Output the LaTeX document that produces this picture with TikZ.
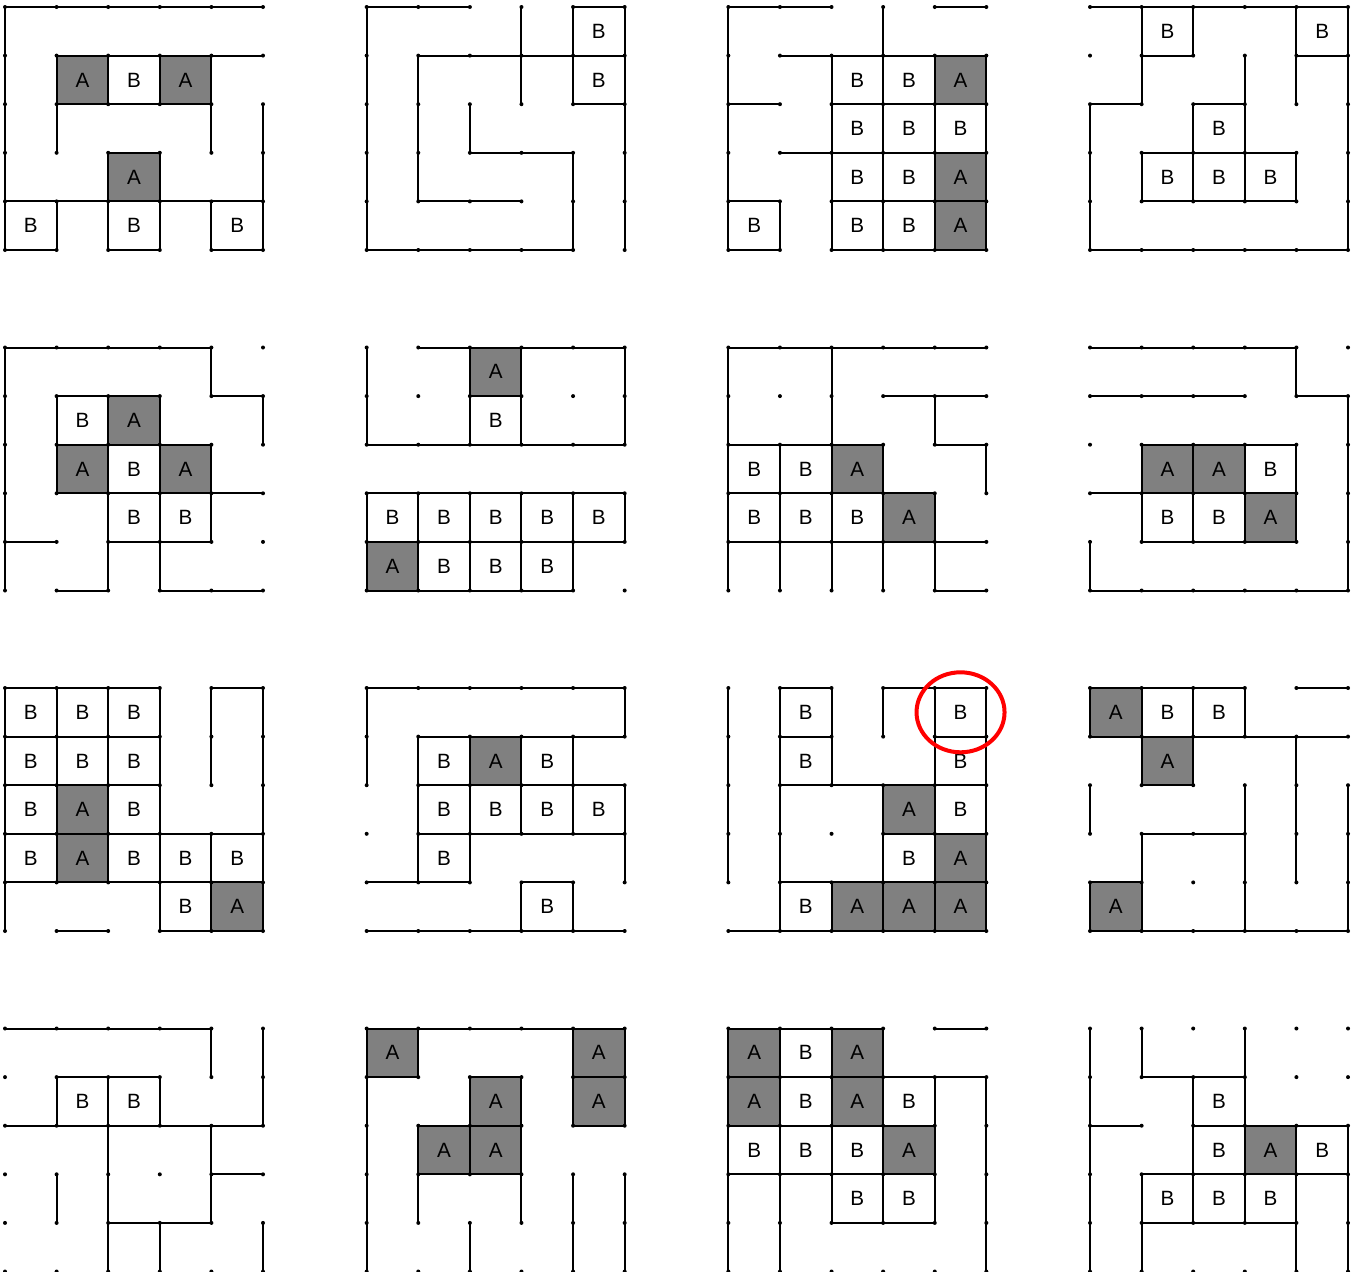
\documentclass[tikz,border=0pt]{standalone}
\usepackage{fontspec}
\setmainfont{Liberation Sans}
\usetikzlibrary{shapes.geometric}
\colorlet{cellA}{black!50}
\colorlet{cellB}{white}
\tikzset{
  wall/.style={line width=1.5pt, line cap=round},
  gridpt/.style={circle, fill=black, inner sep=0pt, minimum size=3pt},
  celltext/.style={font=\fontsize{15.5}{18}\selectfont},
  ring/.style={ellipse, draw=red, line width=3pt, minimum width=66pt, minimum height=60pt}
}
% #1 column, #2 row, #3 walls x1/y1/x2/y2, #4 cells x/y/label
\newcommand{\mazepanel}[4]{%
  \begin{scope}[shift={(5+361.67*#1,7+340.5*#2)}, x=38.7pt, y=-36.45pt]
    \foreach \i/\j/\lab in {#4}{
      \filldraw[wall, fill=cell\lab] (\i,\j) rectangle ++(1,1);
      \node[celltext] (c#1#2-\i-\j) at (\i+.5,\j+.5) {\lab};
    }
    \foreach \xa/\ya/\xb/\yb in {#3}{
      \draw[wall] (\xa,\ya) -- (\xb,\yb);
    }
    \foreach \i in {0,...,5}{
      \foreach \j in {0,...,5}{
        \node[gridpt] (g#1#2-\i-\j) at (\i,\j) {};
      }
    }
  \end{scope}}

\begin{document}
\begin{tikzpicture}[x=0.75pt, y=-0.75pt]
  \useasboundingbox (0,0) rectangle (1360,1271);

  % first row
  \mazepanel{0}{0}{0/0/5/0, 1/1/5/1, 1/2/4/2, 2/3/3/3, 0/4/5/4, 0/5/1/5, 2/5/3/5, 4/5/5/5,
    0/0/0/5, 1/1/1/3, 1/4/1/5, 2/1/2/2, 2/3/2/5, 3/1/3/2, 3/3/3/5, 4/1/4/3, 4/4/4/5, 5/2/5/5}
    {1/1/A, 2/1/B, 3/1/A, 2/3/A, 0/4/B, 2/4/B, 4/4/B}
  \mazepanel{1}{0}{0/0/2/0, 4/0/5/0, 1/1/5/1, 4/2/5/2, 2/3/4/3, 1/4/3/4, 0/5/4/5,
    0/0/0/5, 1/1/1/4, 2/2/2/3, 3/0/3/2, 4/0/4/2, 4/3/4/5, 5/0/5/5}
    {4/0/B, 4/1/B}
  \mazepanel{2}{0}{0/0/2/0, 4/0/5/0, 1/1/5/1, 0/2/1/2, 2/2/5/2, 1/3/5/3, 0/4/1/4, 2/4/5/4, 0/5/1/5, 2/5/5/5,
    0/0/0/5, 1/4/1/5, 2/1/2/5, 3/0/3/5, 4/1/4/5, 5/1/5/5}
    {2/1/B, 3/1/B, 4/1/A, 2/2/B, 3/2/B, 4/2/B, 2/3/B, 3/3/B, 4/3/A, 0/4/B, 2/4/B, 3/4/B, 4/4/A}
  \mazepanel{3}{0}{0/0/5/0, 1/1/2/1, 4/1/5/1, 0/2/1/2, 2/2/3/2, 1/3/4/3, 1/4/4/4, 0/5/5/5,
    0/2/0/5, 1/0/1/2, 1/3/1/4, 2/0/2/1, 2/2/2/4, 3/1/3/4, 4/0/4/2, 4/3/4/4, 5/0/5/5}
    {1/0/B, 4/0/B, 2/2/B, 1/3/B, 2/3/B, 3/3/B}

  % second row
  \mazepanel{0}{1}{0/0/4/0, 1/1/3/1, 4/1/5/1, 1/2/4/2, 1/3/5/3, 0/4/1/4, 2/4/4/4, 1/5/2/5, 3/5/5/5,
    0/0/0/5, 1/1/1/3, 2/1/2/5, 3/1/3/5, 4/0/4/1, 4/2/4/4, 5/1/5/2}
    {1/1/B, 2/1/A, 1/2/A, 2/2/B, 3/2/A, 2/3/B, 3/3/B}
  \mazepanel{1}{1}{1/0/5/0, 2/1/3/1, 0/2/5/2, 0/3/5/3, 0/4/5/4, 0/5/4/5,
    0/0/0/2, 0/3/0/5, 1/3/1/5, 2/0/2/2, 2/3/2/5, 3/0/3/2, 3/3/3/5, 4/3/4/5, 5/0/5/2, 5/3/5/4}
    {2/0/A, 2/1/B, 0/3/B, 1/3/B, 2/3/B, 3/3/B, 4/3/B, 0/4/A, 1/4/B, 2/4/B, 3/4/B}
  \mazepanel{2}{1}{0/0/5/0, 3/1/5/1, 0/2/3/2, 4/2/5/2, 0/3/4/3, 0/4/5/4, 4/5/5/5,
    0/0/0/5, 1/2/1/5, 2/0/2/5, 3/2/3/5, 4/1/4/2, 4/3/4/5, 5/2/5/3}
    {0/2/B, 1/2/B, 2/2/A, 0/3/B, 1/3/B, 2/3/B, 3/3/A}
  \mazepanel{3}{1}{0/0/4/0, 0/1/3/1, 4/1/5/1, 1/2/4/2, 0/3/4/3, 1/4/4/4, 0/5/5/5,
    0/4/0/5, 1/2/1/4, 2/2/2/4, 3/2/3/4, 4/0/4/1, 4/2/4/4, 5/1/5/5}
    {1/2/A, 2/2/A, 3/2/B, 1/3/B, 2/3/B, 3/3/A}

  % third row
  \mazepanel{0}{2}{0/0/3/0, 4/0/5/0, 0/1/3/1, 0/2/3/2, 0/3/5/3, 0/4/5/4, 1/5/2/5, 3/5/5/5,
    0/0/0/5, 1/0/1/4, 2/0/2/4, 3/0/3/5, 4/0/4/2, 4/3/4/5, 5/0/5/5}
    {0/0/B, 1/0/B, 2/0/B, 0/1/B, 1/1/B, 2/1/B, 0/2/B, 1/2/A, 2/2/B, 0/3/B, 1/3/A, 2/3/B, 3/3/B, 4/3/B, 3/4/B, 4/4/A}
  \mazepanel{1}{2}{0/0/5/0, 1/1/5/1, 1/2/5/2, 1/3/5/3, 0/4/2/4, 3/4/4/4, 0/5/5/5,
    0/0/0/2, 1/1/1/4, 2/1/2/4, 3/1/3/3, 3/4/3/5, 4/1/4/3, 4/4/4/5, 5/0/5/1, 5/2/5/4}
    {1/1/B, 2/1/A, 3/1/B, 1/2/B, 2/2/B, 3/2/B, 4/2/B, 1/3/B, 3/4/B}
  \mazepanel{2}{2}{1/0/2/0, 3/0/5/0, 1/1/2/1, 4/1/5/1, 1/2/5/2, 3/3/5/3, 1/4/5/4, 0/5/5/5,
    0/0/0/4, 1/0/1/5, 2/0/2/2, 2/4/2/5, 3/0/3/1, 3/2/3/5, 4/0/4/5, 5/0/5/5}
    {1/0/B, 4/0/B, 1/1/B, 4/1/B, 3/2/A, 4/2/B, 3/3/B, 4/3/A, 1/4/B, 2/4/A, 3/4/A, 4/4/A}
  \mazepanel{3}{2}{0/0/3/0, 4/0/5/0, 0/1/5/1, 1/2/2/2, 1/3/3/3, 0/4/1/4, 0/5/5/5,
    0/2/0/3, 0/4/0/5, 1/0/1/2, 1/3/1/5, 2/0/2/2, 3/0/3/1, 3/2/3/5, 4/1/4/4, 5/2/5/5}
    {0/0/A, 1/0/B, 2/0/B, 1/1/A, 0/4/A}
  \node[ring] (hl) at (c22-4-0) {};

  % fourth row
  \mazepanel{0}{3}{0/0/4/0, 1/1/3/1, 0/2/5/2, 4/3/5/3, 2/4/4/4,
    1/3/1/4, 2/1/2/5, 3/4/3/5, 4/0/4/1, 4/2/4/4, 5/0/5/2, 5/4/5/5}
    {1/1/B, 2/1/B}
  \mazepanel{1}{3}{0/0/5/0, 1/2/3/2, 1/3/3/3,
    0/0/0/5, 1/3/1/4, 2/4/2/5, 3/3/3/4, 4/0/4/2, 4/3/4/5, 5/0/5/2, 5/3/5/5}
    {0/0/A, 4/0/A, 2/1/A, 4/1/A, 1/2/A, 2/2/A}
  \mazepanel{2}{3}{4/0/5/0, 0/1/5/1, 0/3/4/3, 2/4/4/4,
    0/0/0/5, 1/3/1/5, 5/1/5/5}
    {0/0/A, 1/0/B, 2/0/A, 0/1/A, 1/1/B, 2/1/A, 3/1/B, 0/2/B, 1/2/B, 2/2/B, 3/2/A, 2/3/B, 3/3/B}
  \mazepanel{3}{3}{1/1/3/1, 0/2/1/2,
    0/0/0/5, 1/0/1/1, 3/0/3/1, 1/4/1/5, 4/4/4/5, 5/3/5/5}
    {2/1/B, 2/2/B, 3/2/A, 4/2/B, 1/3/B, 2/3/B, 3/3/B}
\end{tikzpicture}
\end{document}
